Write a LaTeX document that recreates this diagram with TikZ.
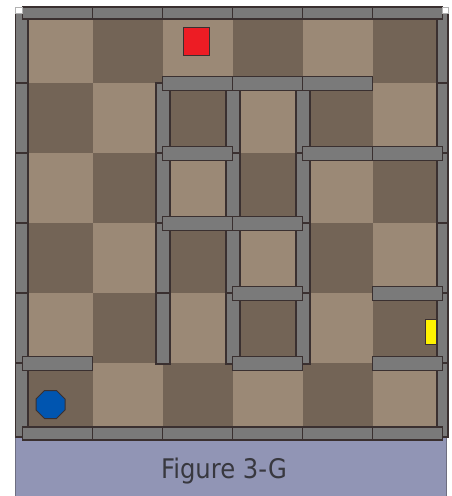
\documentclass[tikz,border=0pt]{standalone}
\usepackage{fontspec}
\newfontfamily\labfont[FakeStretch=0.9]{DejaVu Sans}
\definecolor{cellL}{HTML}{9B8976}
\definecolor{cellD}{HTML}{736456}
\definecolor{wallgray}{HTML}{7A7A7A}
\definecolor{wallline}{HTML}{3A3030}
\definecolor{labelbg}{HTML}{9195B5}
\definecolor{labelline}{HTML}{6E6E80}
\definecolor{labtext}{HTML}{38383F}
\definecolor{redc}{HTML}{ED1C24}
\definecolor{yellowc}{HTML}{FFF200}
\definecolor{bluec}{HTML}{0055B0}
\begin{document}
\begin{tikzpicture}[x=1pt,y=-1pt,
  wall/.style={fill=wallgray,draw=wallline,line width=1.3pt},
  piece/.style={draw=wallline,line width=1pt},
  corner/.style={fill=white,draw=gray!60,line width=0.5pt}]
\useasboundingbox (0,0) rectangle (451,496);
\fill[white] (0,0) rectangle (451,496);
% caption panel
\draw[fill=labelbg,draw=labelline,line width=0.8pt] (15.5,437) rectangle (446,497);
% checkerboard
\foreach \i in {0,...,5}{
  \foreach \j in {0,...,5}{
    \pgfmathtruncatemacro{\parity}{mod(\i+\j,2)}
    \ifnum\parity=0 \def\cc{cellL}\else\def\cc{cellD}\fi
    \fill[\cc] ({22.5+70*\i},{13+70*\j}) rectangle ({22.5+70*(\i+1)},{13+70*(\j+1)});
  }
}
% pieces
\draw[piece,fill=yellowc] (425,319) rectangle (437,344);
\draw[piece,fill=redc] (183,27) rectangle (209.5,55);
\draw[piece,fill=bluec] (44.5,390.5) -- (56.5,390.5) -- (65,399) -- (65,410)
  -- (56.5,418.5) -- (44.5,418.5) -- (36,410) -- (36,399) -- cycle;
% boundary vertical walls
\foreach \j in {0,...,5}{
  \draw[wall] (15.5,{13+70*\j}) rectangle (28,{13+70*(\j+1)+(\j==5)*4});
  \draw[wall] (437,{13+70*\j}) rectangle (448,{13+70*(\j+1)+(\j==5)*4});
}
% interior vertical walls
\foreach \i in {2,3,4}{
  \foreach \j in {1,...,4}{
    \draw[wall] ({22.5+70*\i-6.5},{13+70*\j}) rectangle ({22.5+70*\i+7.5},{13+70*(\j+1)+1});
  }
}
% interior horizontal walls
\foreach \i/\j in {2/1,3/1,4/1,2/2,4/2,5/2,2/3,3/3,3/4,5/4,0/5,3/5,5/5}{
  \draw[wall] ({22.5+70*\i},{13+70*\j-6.5}) rectangle ({22.5+70*(\i+1)},{13+70*\j+7.5});
}
% top and bottom walls
\foreach \i in {0,...,5}{
  \draw[wall] ({22.5+70*\i},7) rectangle ({22.5+70*(\i+1)},19);
  \draw[wall] ({22.5+70*\i},427) rectangle ({22.5+70*(\i+1)},440);
}
% corner marks
\draw[corner] (15.5,7) rectangle (22,13);
\draw[corner] (442.5,7) rectangle (448,13);
% caption
\node[anchor=base,text=labtext,font=\labfont\fontsize{27}{30}\selectfont,inner sep=0pt] (caption) at (224,478) {Figure 3-G};
\end{tikzpicture}
\end{document}
